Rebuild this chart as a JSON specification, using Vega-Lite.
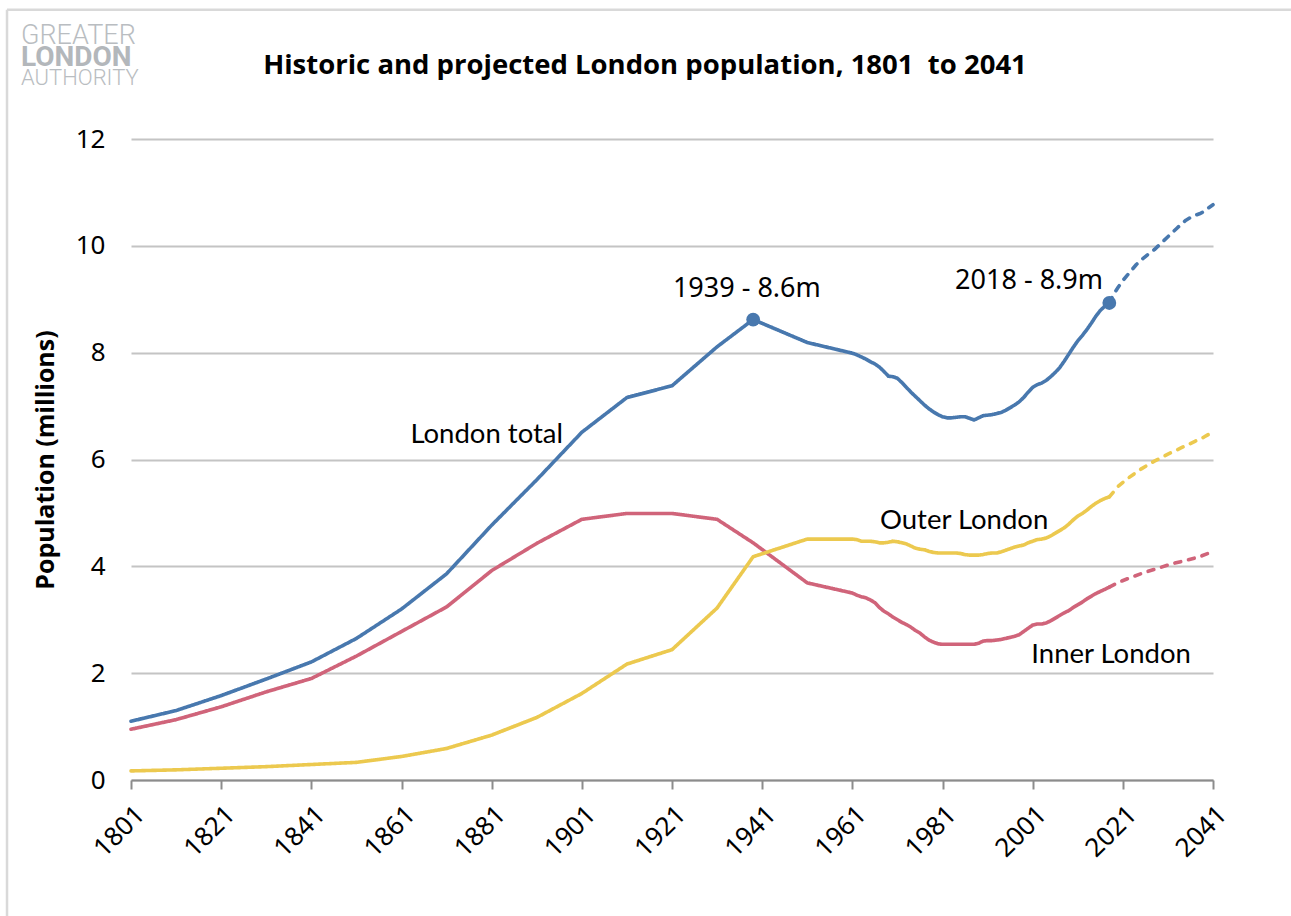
{
  "$schema": "https://vega.github.io/schema/vega-lite/v6.json",
  "width": 1082,
  "height": 641,
  "autosize": {"type": "none"},
  "padding": {"left": 131, "top": 139, "right": 78, "bottom": 136},
  "background": "white",
  "title": {
    "text": "Historic and projected London population, 1801 \u00a0to 2041",
    "frame": "group",
    "anchor": "middle",
    "dx": -27,
    "offset": -93,
    "baseline": "alphabetic",
    "font": "Open Sans",
    "fontSize": 27.5,
    "fontWeight": "bold",
    "color": "#000000"
  },
  "config": {
    "view": {"stroke": null}
  },
  "data": {
    "values": [
      {"year": 1801, "series": "London total", "value": 1.10, "phase": "Historic"},
      {"year": 1811, "series": "London total", "value": 1.30, "phase": "Historic"},
      {"year": 1821, "series": "London total", "value": 1.58, "phase": "Historic"},
      {"year": 1831, "series": "London total", "value": 1.89, "phase": "Historic"},
      {"year": 1841, "series": "London total", "value": 2.21, "phase": "Historic"},
      {"year": 1851, "series": "London total", "value": 2.65, "phase": "Historic"},
      {"year": 1861, "series": "London total", "value": 3.20, "phase": "Historic"},
      {"year": 1871, "series": "London total", "value": 3.86, "phase": "Historic"},
      {"year": 1881, "series": "London total", "value": 4.77, "phase": "Historic"},
      {"year": 1891, "series": "London total", "value": 5.62, "phase": "Historic"},
      {"year": 1901, "series": "London total", "value": 6.51, "phase": "Historic"},
      {"year": 1911, "series": "London total", "value": 7.16, "phase": "Historic"},
      {"year": 1921, "series": "London total", "value": 7.38, "phase": "Historic"},
      {"year": 1931, "series": "London total", "value": 8.11, "phase": "Historic"},
      {"year": 1939, "series": "London total", "value": 8.62, "phase": "Historic"},
      {"year": 1951, "series": "London total", "value": 8.19, "phase": "Historic"},
      {"year": 1961, "series": "London total", "value": 7.99, "phase": "Historic"},
      {"year": 1962, "series": "London total", "value": 7.96, "phase": "Historic"},
      {"year": 1963, "series": "London total", "value": 7.92, "phase": "Historic"},
      {"year": 1964, "series": "London total", "value": 7.88, "phase": "Historic"},
      {"year": 1965, "series": "London total", "value": 7.83, "phase": "Historic"},
      {"year": 1966, "series": "London total", "value": 7.79, "phase": "Historic"},
      {"year": 1967, "series": "London total", "value": 7.73, "phase": "Historic"},
      {"year": 1968, "series": "London total", "value": 7.65, "phase": "Historic"},
      {"year": 1969, "series": "London total", "value": 7.56, "phase": "Historic"},
      {"year": 1970, "series": "London total", "value": 7.55, "phase": "Historic"},
      {"year": 1971, "series": "London total", "value": 7.52, "phase": "Historic"},
      {"year": 1972, "series": "London total", "value": 7.44, "phase": "Historic"},
      {"year": 1973, "series": "London total", "value": 7.35, "phase": "Historic"},
      {"year": 1974, "series": "London total", "value": 7.26, "phase": "Historic"},
      {"year": 1975, "series": "London total", "value": 7.18, "phase": "Historic"},
      {"year": 1976, "series": "London total", "value": 7.10, "phase": "Historic"},
      {"year": 1977, "series": "London total", "value": 7.02, "phase": "Historic"},
      {"year": 1978, "series": "London total", "value": 6.95, "phase": "Historic"},
      {"year": 1979, "series": "London total", "value": 6.89, "phase": "Historic"},
      {"year": 1980, "series": "London total", "value": 6.84, "phase": "Historic"},
      {"year": 1981, "series": "London total", "value": 6.80, "phase": "Historic"},
      {"year": 1982, "series": "London total", "value": 6.78, "phase": "Historic"},
      {"year": 1983, "series": "London total", "value": 6.78, "phase": "Historic"},
      {"year": 1984, "series": "London total", "value": 6.79, "phase": "Historic"},
      {"year": 1985, "series": "London total", "value": 6.80, "phase": "Historic"},
      {"year": 1986, "series": "London total", "value": 6.80, "phase": "Historic"},
      {"year": 1987, "series": "London total", "value": 6.77, "phase": "Historic"},
      {"year": 1988, "series": "London total", "value": 6.74, "phase": "Historic"},
      {"year": 1989, "series": "London total", "value": 6.78, "phase": "Historic"},
      {"year": 1990, "series": "London total", "value": 6.82, "phase": "Historic"},
      {"year": 1991, "series": "London total", "value": 6.83, "phase": "Historic"},
      {"year": 1992, "series": "London total", "value": 6.84, "phase": "Historic"},
      {"year": 1993, "series": "London total", "value": 6.86, "phase": "Historic"},
      {"year": 1994, "series": "London total", "value": 6.88, "phase": "Historic"},
      {"year": 1995, "series": "London total", "value": 6.92, "phase": "Historic"},
      {"year": 1996, "series": "London total", "value": 6.97, "phase": "Historic"},
      {"year": 1997, "series": "London total", "value": 7.02, "phase": "Historic"},
      {"year": 1998, "series": "London total", "value": 7.08, "phase": "Historic"},
      {"year": 1999, "series": "London total", "value": 7.16, "phase": "Historic"},
      {"year": 2000, "series": "London total", "value": 7.26, "phase": "Historic"},
      {"year": 2001, "series": "London total", "value": 7.35, "phase": "Historic"},
      {"year": 2002, "series": "London total", "value": 7.40, "phase": "Historic"},
      {"year": 2003, "series": "London total", "value": 7.43, "phase": "Historic"},
      {"year": 2004, "series": "London total", "value": 7.48, "phase": "Historic"},
      {"year": 2005, "series": "London total", "value": 7.55, "phase": "Historic"},
      {"year": 2006, "series": "London total", "value": 7.63, "phase": "Historic"},
      {"year": 2007, "series": "London total", "value": 7.72, "phase": "Historic"},
      {"year": 2008, "series": "London total", "value": 7.84, "phase": "Historic"},
      {"year": 2009, "series": "London total", "value": 7.97, "phase": "Historic"},
      {"year": 2010, "series": "London total", "value": 8.10, "phase": "Historic"},
      {"year": 2011, "series": "London total", "value": 8.22, "phase": "Historic"},
      {"year": 2012, "series": "London total", "value": 8.32, "phase": "Historic"},
      {"year": 2013, "series": "London total", "value": 8.43, "phase": "Historic"},
      {"year": 2014, "series": "London total", "value": 8.55, "phase": "Historic"},
      {"year": 2015, "series": "London total", "value": 8.68, "phase": "Historic"},
      {"year": 2016, "series": "London total", "value": 8.79, "phase": "Historic"},
      {"year": 2017, "series": "London total", "value": 8.87, "phase": "Historic"},
      {"year": 2018, "series": "London total", "value": 8.93, "phase": "Historic"},
      {"year": 2018, "series": "London total", "value": 8.93, "phase": "Projected"},
      {"year": 2019, "series": "London total", "value": 9.10, "phase": "Projected"},
      {"year": 2020, "series": "London total", "value": 9.23, "phase": "Projected"},
      {"year": 2021, "series": "London total", "value": 9.35, "phase": "Projected"},
      {"year": 2022, "series": "London total", "value": 9.45, "phase": "Projected"},
      {"year": 2023, "series": "London total", "value": 9.55, "phase": "Projected"},
      {"year": 2024, "series": "London total", "value": 9.65, "phase": "Projected"},
      {"year": 2025, "series": "London total", "value": 9.73, "phase": "Projected"},
      {"year": 2026, "series": "London total", "value": 9.80, "phase": "Projected"},
      {"year": 2027, "series": "London total", "value": 9.87, "phase": "Projected"},
      {"year": 2028, "series": "London total", "value": 9.93, "phase": "Projected"},
      {"year": 2029, "series": "London total", "value": 10.01, "phase": "Projected"},
      {"year": 2030, "series": "London total", "value": 10.09, "phase": "Projected"},
      {"year": 2031, "series": "London total", "value": 10.17, "phase": "Projected"},
      {"year": 2032, "series": "London total", "value": 10.25, "phase": "Projected"},
      {"year": 2033, "series": "London total", "value": 10.33, "phase": "Projected"},
      {"year": 2034, "series": "London total", "value": 10.41, "phase": "Projected"},
      {"year": 2035, "series": "London total", "value": 10.48, "phase": "Projected"},
      {"year": 2036, "series": "London total", "value": 10.53, "phase": "Projected"},
      {"year": 2037, "series": "London total", "value": 10.57, "phase": "Projected"},
      {"year": 2038, "series": "London total", "value": 10.60, "phase": "Projected"},
      {"year": 2039, "series": "London total", "value": 10.64, "phase": "Projected"},
      {"year": 2040, "series": "London total", "value": 10.71, "phase": "Projected"},
      {"year": 2041, "series": "London total", "value": 10.77, "phase": "Projected"},

      {"year": 1801, "series": "Inner London", "value": 0.95, "phase": "Historic"},
      {"year": 1811, "series": "Inner London", "value": 1.13, "phase": "Historic"},
      {"year": 1821, "series": "Inner London", "value": 1.37, "phase": "Historic"},
      {"year": 1831, "series": "Inner London", "value": 1.65, "phase": "Historic"},
      {"year": 1841, "series": "Inner London", "value": 1.90, "phase": "Historic"},
      {"year": 1851, "series": "Inner London", "value": 2.32, "phase": "Historic"},
      {"year": 1861, "series": "Inner London", "value": 2.78, "phase": "Historic"},
      {"year": 1871, "series": "Inner London", "value": 3.24, "phase": "Historic"},
      {"year": 1881, "series": "Inner London", "value": 3.92, "phase": "Historic"},
      {"year": 1891, "series": "Inner London", "value": 4.43, "phase": "Historic"},
      {"year": 1901, "series": "Inner London", "value": 4.88, "phase": "Historic"},
      {"year": 1911, "series": "Inner London", "value": 4.99, "phase": "Historic"},
      {"year": 1921, "series": "Inner London", "value": 4.99, "phase": "Historic"},
      {"year": 1931, "series": "Inner London", "value": 4.88, "phase": "Historic"},
      {"year": 1939, "series": "Inner London", "value": 4.44, "phase": "Historic"},
      {"year": 1951, "series": "Inner London", "value": 3.69, "phase": "Historic"},
      {"year": 1961, "series": "Inner London", "value": 3.50, "phase": "Historic"},
      {"year": 1962, "series": "Inner London", "value": 3.46, "phase": "Historic"},
      {"year": 1963, "series": "Inner London", "value": 3.43, "phase": "Historic"},
      {"year": 1964, "series": "Inner London", "value": 3.41, "phase": "Historic"},
      {"year": 1965, "series": "Inner London", "value": 3.37, "phase": "Historic"},
      {"year": 1966, "series": "Inner London", "value": 3.32, "phase": "Historic"},
      {"year": 1967, "series": "Inner London", "value": 3.23, "phase": "Historic"},
      {"year": 1968, "series": "Inner London", "value": 3.16, "phase": "Historic"},
      {"year": 1969, "series": "Inner London", "value": 3.11, "phase": "Historic"},
      {"year": 1970, "series": "Inner London", "value": 3.05, "phase": "Historic"},
      {"year": 1971, "series": "Inner London", "value": 3.00, "phase": "Historic"},
      {"year": 1972, "series": "Inner London", "value": 2.95, "phase": "Historic"},
      {"year": 1973, "series": "Inner London", "value": 2.91, "phase": "Historic"},
      {"year": 1974, "series": "Inner London", "value": 2.86, "phase": "Historic"},
      {"year": 1975, "series": "Inner London", "value": 2.80, "phase": "Historic"},
      {"year": 1976, "series": "Inner London", "value": 2.75, "phase": "Historic"},
      {"year": 1977, "series": "Inner London", "value": 2.68, "phase": "Historic"},
      {"year": 1978, "series": "Inner London", "value": 2.62, "phase": "Historic"},
      {"year": 1979, "series": "Inner London", "value": 2.58, "phase": "Historic"},
      {"year": 1980, "series": "Inner London", "value": 2.55, "phase": "Historic"},
      {"year": 1981, "series": "Inner London", "value": 2.54, "phase": "Historic"},
      {"year": 1982, "series": "Inner London", "value": 2.54, "phase": "Historic"},
      {"year": 1983, "series": "Inner London", "value": 2.54, "phase": "Historic"},
      {"year": 1984, "series": "Inner London", "value": 2.54, "phase": "Historic"},
      {"year": 1985, "series": "Inner London", "value": 2.54, "phase": "Historic"},
      {"year": 1986, "series": "Inner London", "value": 2.54, "phase": "Historic"},
      {"year": 1987, "series": "Inner London", "value": 2.54, "phase": "Historic"},
      {"year": 1988, "series": "Inner London", "value": 2.54, "phase": "Historic"},
      {"year": 1989, "series": "Inner London", "value": 2.56, "phase": "Historic"},
      {"year": 1990, "series": "Inner London", "value": 2.60, "phase": "Historic"},
      {"year": 1991, "series": "Inner London", "value": 2.61, "phase": "Historic"},
      {"year": 1992, "series": "Inner London", "value": 2.61, "phase": "Historic"},
      {"year": 1993, "series": "Inner London", "value": 2.62, "phase": "Historic"},
      {"year": 1994, "series": "Inner London", "value": 2.63, "phase": "Historic"},
      {"year": 1995, "series": "Inner London", "value": 2.65, "phase": "Historic"},
      {"year": 1996, "series": "Inner London", "value": 2.67, "phase": "Historic"},
      {"year": 1997, "series": "Inner London", "value": 2.69, "phase": "Historic"},
      {"year": 1998, "series": "Inner London", "value": 2.72, "phase": "Historic"},
      {"year": 1999, "series": "Inner London", "value": 2.78, "phase": "Historic"},
      {"year": 2000, "series": "Inner London", "value": 2.84, "phase": "Historic"},
      {"year": 2001, "series": "Inner London", "value": 2.90, "phase": "Historic"},
      {"year": 2002, "series": "Inner London", "value": 2.92, "phase": "Historic"},
      {"year": 2003, "series": "Inner London", "value": 2.92, "phase": "Historic"},
      {"year": 2004, "series": "Inner London", "value": 2.94, "phase": "Historic"},
      {"year": 2005, "series": "Inner London", "value": 2.98, "phase": "Historic"},
      {"year": 2006, "series": "Inner London", "value": 3.03, "phase": "Historic"},
      {"year": 2007, "series": "Inner London", "value": 3.08, "phase": "Historic"},
      {"year": 2008, "series": "Inner London", "value": 3.13, "phase": "Historic"},
      {"year": 2009, "series": "Inner London", "value": 3.17, "phase": "Historic"},
      {"year": 2010, "series": "Inner London", "value": 3.23, "phase": "Historic"},
      {"year": 2011, "series": "Inner London", "value": 3.28, "phase": "Historic"},
      {"year": 2012, "series": "Inner London", "value": 3.33, "phase": "Historic"},
      {"year": 2013, "series": "Inner London", "value": 3.39, "phase": "Historic"},
      {"year": 2014, "series": "Inner London", "value": 3.44, "phase": "Historic"},
      {"year": 2015, "series": "Inner London", "value": 3.49, "phase": "Historic"},
      {"year": 2016, "series": "Inner London", "value": 3.53, "phase": "Historic"},
      {"year": 2017, "series": "Inner London", "value": 3.57, "phase": "Historic"},
      {"year": 2018, "series": "Inner London", "value": 3.61, "phase": "Historic"},
      {"year": 2018, "series": "Inner London", "value": 3.61, "phase": "Projected"},
      {"year": 2020, "series": "Inner London", "value": 3.70, "phase": "Projected"},
      {"year": 2023, "series": "Inner London", "value": 3.80, "phase": "Projected"},
      {"year": 2026, "series": "Inner London", "value": 3.89, "phase": "Projected"},
      {"year": 2029, "series": "Inner London", "value": 3.97, "phase": "Projected"},
      {"year": 2032, "series": "Inner London", "value": 4.05, "phase": "Projected"},
      {"year": 2035, "series": "Inner London", "value": 4.11, "phase": "Projected"},
      {"year": 2038, "series": "Inner London", "value": 4.18, "phase": "Projected"},
      {"year": 2041, "series": "Inner London", "value": 4.28, "phase": "Projected"},

      {"year": 1801, "series": "Outer London", "value": 0.17, "phase": "Historic"},
      {"year": 1811, "series": "Outer London", "value": 0.19, "phase": "Historic"},
      {"year": 1821, "series": "Outer London", "value": 0.22, "phase": "Historic"},
      {"year": 1831, "series": "Outer London", "value": 0.25, "phase": "Historic"},
      {"year": 1841, "series": "Outer London", "value": 0.29, "phase": "Historic"},
      {"year": 1851, "series": "Outer London", "value": 0.33, "phase": "Historic"},
      {"year": 1861, "series": "Outer London", "value": 0.44, "phase": "Historic"},
      {"year": 1871, "series": "Outer London", "value": 0.59, "phase": "Historic"},
      {"year": 1881, "series": "Outer London", "value": 0.84, "phase": "Historic"},
      {"year": 1891, "series": "Outer London", "value": 1.17, "phase": "Historic"},
      {"year": 1901, "series": "Outer London", "value": 1.62, "phase": "Historic"},
      {"year": 1911, "series": "Outer London", "value": 2.17, "phase": "Historic"},
      {"year": 1921, "series": "Outer London", "value": 2.44, "phase": "Historic"},
      {"year": 1931, "series": "Outer London", "value": 3.22, "phase": "Historic"},
      {"year": 1939, "series": "Outer London", "value": 4.18, "phase": "Historic"},
      {"year": 1951, "series": "Outer London", "value": 4.51, "phase": "Historic"},
      {"year": 1961, "series": "Outer London", "value": 4.51, "phase": "Historic"},
      {"year": 1962, "series": "Outer London", "value": 4.50, "phase": "Historic"},
      {"year": 1963, "series": "Outer London", "value": 4.47, "phase": "Historic"},
      {"year": 1964, "series": "Outer London", "value": 4.47, "phase": "Historic"},
      {"year": 1965, "series": "Outer London", "value": 4.47, "phase": "Historic"},
      {"year": 1966, "series": "Outer London", "value": 4.46, "phase": "Historic"},
      {"year": 1967, "series": "Outer London", "value": 4.44, "phase": "Historic"},
      {"year": 1968, "series": "Outer London", "value": 4.44, "phase": "Historic"},
      {"year": 1969, "series": "Outer London", "value": 4.45, "phase": "Historic"},
      {"year": 1970, "series": "Outer London", "value": 4.47, "phase": "Historic"},
      {"year": 1971, "series": "Outer London", "value": 4.46, "phase": "Historic"},
      {"year": 1972, "series": "Outer London", "value": 4.44, "phase": "Historic"},
      {"year": 1973, "series": "Outer London", "value": 4.42, "phase": "Historic"},
      {"year": 1974, "series": "Outer London", "value": 4.38, "phase": "Historic"},
      {"year": 1975, "series": "Outer London", "value": 4.34, "phase": "Historic"},
      {"year": 1976, "series": "Outer London", "value": 4.32, "phase": "Historic"},
      {"year": 1977, "series": "Outer London", "value": 4.31, "phase": "Historic"},
      {"year": 1978, "series": "Outer London", "value": 4.28, "phase": "Historic"},
      {"year": 1979, "series": "Outer London", "value": 4.26, "phase": "Historic"},
      {"year": 1980, "series": "Outer London", "value": 4.25, "phase": "Historic"},
      {"year": 1981, "series": "Outer London", "value": 4.25, "phase": "Historic"},
      {"year": 1982, "series": "Outer London", "value": 4.25, "phase": "Historic"},
      {"year": 1983, "series": "Outer London", "value": 4.25, "phase": "Historic"},
      {"year": 1984, "series": "Outer London", "value": 4.25, "phase": "Historic"},
      {"year": 1985, "series": "Outer London", "value": 4.24, "phase": "Historic"},
      {"year": 1986, "series": "Outer London", "value": 4.22, "phase": "Historic"},
      {"year": 1987, "series": "Outer London", "value": 4.21, "phase": "Historic"},
      {"year": 1988, "series": "Outer London", "value": 4.21, "phase": "Historic"},
      {"year": 1989, "series": "Outer London", "value": 4.21, "phase": "Historic"},
      {"year": 1990, "series": "Outer London", "value": 4.22, "phase": "Historic"},
      {"year": 1991, "series": "Outer London", "value": 4.24, "phase": "Historic"},
      {"year": 1992, "series": "Outer London", "value": 4.25, "phase": "Historic"},
      {"year": 1993, "series": "Outer London", "value": 4.25, "phase": "Historic"},
      {"year": 1994, "series": "Outer London", "value": 4.27, "phase": "Historic"},
      {"year": 1995, "series": "Outer London", "value": 4.30, "phase": "Historic"},
      {"year": 1996, "series": "Outer London", "value": 4.33, "phase": "Historic"},
      {"year": 1997, "series": "Outer London", "value": 4.36, "phase": "Historic"},
      {"year": 1998, "series": "Outer London", "value": 4.38, "phase": "Historic"},
      {"year": 1999, "series": "Outer London", "value": 4.40, "phase": "Historic"},
      {"year": 2000, "series": "Outer London", "value": 4.44, "phase": "Historic"},
      {"year": 2001, "series": "Outer London", "value": 4.47, "phase": "Historic"},
      {"year": 2002, "series": "Outer London", "value": 4.50, "phase": "Historic"},
      {"year": 2003, "series": "Outer London", "value": 4.51, "phase": "Historic"},
      {"year": 2004, "series": "Outer London", "value": 4.53, "phase": "Historic"},
      {"year": 2005, "series": "Outer London", "value": 4.57, "phase": "Historic"},
      {"year": 2006, "series": "Outer London", "value": 4.62, "phase": "Historic"},
      {"year": 2007, "series": "Outer London", "value": 4.67, "phase": "Historic"},
      {"year": 2008, "series": "Outer London", "value": 4.72, "phase": "Historic"},
      {"year": 2009, "series": "Outer London", "value": 4.79, "phase": "Historic"},
      {"year": 2010, "series": "Outer London", "value": 4.87, "phase": "Historic"},
      {"year": 2011, "series": "Outer London", "value": 4.94, "phase": "Historic"},
      {"year": 2012, "series": "Outer London", "value": 4.99, "phase": "Historic"},
      {"year": 2013, "series": "Outer London", "value": 5.05, "phase": "Historic"},
      {"year": 2014, "series": "Outer London", "value": 5.12, "phase": "Historic"},
      {"year": 2015, "series": "Outer London", "value": 5.18, "phase": "Historic"},
      {"year": 2016, "series": "Outer London", "value": 5.23, "phase": "Historic"},
      {"year": 2017, "series": "Outer London", "value": 5.27, "phase": "Historic"},
      {"year": 2018, "series": "Outer London", "value": 5.30, "phase": "Historic"},
      {"year": 2018, "series": "Outer London", "value": 5.30, "phase": "Projected"},
      {"year": 2020, "series": "Outer London", "value": 5.50, "phase": "Projected"},
      {"year": 2022, "series": "Outer London", "value": 5.64, "phase": "Projected"},
      {"year": 2025, "series": "Outer London", "value": 5.82, "phase": "Projected"},
      {"year": 2028, "series": "Outer London", "value": 5.97, "phase": "Projected"},
      {"year": 2031, "series": "Outer London", "value": 6.10, "phase": "Projected"},
      {"year": 2034, "series": "Outer London", "value": 6.22, "phase": "Projected"},
      {"year": 2037, "series": "Outer London", "value": 6.34, "phase": "Projected"},
      {"year": 2039, "series": "Outer London", "value": 6.42, "phase": "Projected"},
      {"year": 2041, "series": "Outer London", "value": 6.52, "phase": "Projected"}
    ]
  },
  "layer": [
    {
      "data": {"values": [{"edge": "left"}]},
      "mark": {"type": "rule", "color": "#d9d9d9", "strokeWidth": 2.5},
      "encoding": {
        "x": {"datum": 1773.5, "type": "quantitative"},
        "y": {"datum": 14.42, "type": "quantitative"},
        "y2": {"datum": -3}
      }
    },
    {
      "data": {"values": [{"edge": "top"}]},
      "mark": {"type": "rule", "color": "#d9d9d9", "strokeWidth": 2.5},
      "encoding": {
        "x": {"datum": 1773.5, "type": "quantitative"},
        "x2": {"datum": 2060},
        "y": {"datum": 14.42, "type": "quantitative"}
      }
    },
    {
      "data": {"values": [{"label": "GREATER", "year": 1776.6, "value": 13.78}]},
      "mark": {"type": "text", "align": "left", "baseline": "alphabetic", "font": "Roboto", "fontWeight": 300, "fontSize": 27, "color": "#b9bdc1"},
      "encoding": {
        "x": {"field": "year", "type": "quantitative"},
        "y": {"field": "value", "type": "quantitative"},
        "text": {"field": "label"}
      }
    },
    {
      "data": {"values": [{"label": "AUTHORITY", "year": 1776.6, "value": 13.01}]},
      "mark": {"type": "text", "align": "left", "baseline": "alphabetic", "font": "Roboto", "fontWeight": 300, "fontSize": 22, "color": "#b9bdc1"},
      "encoding": {
        "x": {"field": "year", "type": "quantitative"},
        "y": {"field": "value", "type": "quantitative"},
        "text": {"field": "label"}
      }
    },
    {
      "data": {"values": [{"label": "LONDON", "year": 1776.6, "value": 13.36}]},
      "mark": {"type": "text", "align": "left", "baseline": "alphabetic", "font": "Roboto", "fontWeight": "bold", "fontSize": 28, "color": "#b3b7bb"},
      "encoding": {
        "x": {"field": "year", "type": "quantitative"},
        "y": {"field": "value", "type": "quantitative"},
        "text": {"field": "label"}
      }
    },
    {
      "mark": {"type": "line", "strokeWidth": 3.6, "strokeJoin": "round", "strokeCap": "round"},
      "encoding": {
        "x": {
          "field": "year", "type": "quantitative",
          "scale": {"domain": [1801, 2041], "nice": false, "zero": false},
          "axis": {
            "title": null,
            "values": [1801, 1821, 1841, 1861, 1881, 1901, 1921, 1941, 1961, 1981, 2001, 2021, 2041],
            "format": "d",
            "labelAngle": -45,
            "labelFont": "Noto Sans",
            "labelFontSize": 26,
            "labelColor": "#000000",
            "labelPadding": 12,
            "labelOverlap": false,
            "tickColor": "#8c8c8c",
            "tickSize": 9,
            "tickWidth": 2,
            "domainColor": "#8c8c8c",
            "domainWidth": 2,
            "grid": false
          }
        },
        "y": {
          "field": "value", "type": "quantitative",
          "scale": {"domain": [0, 12], "nice": false},
          "axis": {
            "title": "Population (millions)",
            "values": [0, 2, 4, 6, 8, 10, 12],
            "format": "d",
            "grid": true,
            "gridColor": "#c4c4c4",
            "gridWidth": 1.8,
            "domain": false,
            "ticks": false,
            "labelFont": "Noto Sans",
            "labelFontSize": 26,
            "labelColor": "#000000",
            "labelPadding": 26,
            "titleFont": "Open Sans",
            "titleFontSize": 25,
            "titleFontWeight": "bold",
            "titleColor": "#000000",
            "titlePadding": 17
          }
        },
        "color": {"field": "series", "type": "nominal", "scale": {"domain": ["London total", "Inner London", "Outer London"], "range": ["#4878ae", "#d0647a", "#ecc94f"]}, "legend": null},
        "strokeDash": {"field": "phase", "type": "nominal", "scale": {"domain": ["Historic", "Projected"], "range": [[1, 0], [6, 8]]}, "legend": null},
        "detail": {"field": "series"},
        "order": {"field": "year"}
      }
    },
    {
      "transform": [{"filter": "datum.series === 'London total' && datum.phase === 'Historic' && (datum.year === 1939 || datum.year === 2018)"}],
      "mark": {"type": "circle", "size": 190, "opacity": 1, "color": "#4878ae"},
      "encoding": {
        "x": {"field": "year", "type": "quantitative"},
        "y": {"field": "value", "type": "quantitative"}
      }
    },
    {
      "data": {"values": [{"label": "1939 - 8.6m", "year": 1937.6, "value": 9.19}, {"label": "2018 - 8.9m", "year": 2000.2, "value": 9.34}]},
      "mark": {"type": "text", "align": "center", "baseline": "middle", "font": "Noto Sans", "fontSize": 27, "color": "#000000"},
      "encoding": {
        "x": {"field": "year", "type": "quantitative"},
        "y": {"field": "value", "type": "quantitative"},
        "text": {"field": "label"}
      }
    },
    {
      "data": {"values": [{"label": "London total", "year": 1879.9, "value": 6.46}, {"label": "Outer London", "year": 1985.8, "value": 4.85}, {"label": "Inner London", "year": 2018.4, "value": 2.34}]},
      "mark": {"type": "text", "align": "center", "baseline": "middle", "font": "Lato", "fontSize": 27.5, "color": "#000000"},
      "encoding": {
        "x": {"field": "year", "type": "quantitative"},
        "y": {"field": "value", "type": "quantitative"},
        "text": {"field": "label"}
      }
    }
  ]
}
